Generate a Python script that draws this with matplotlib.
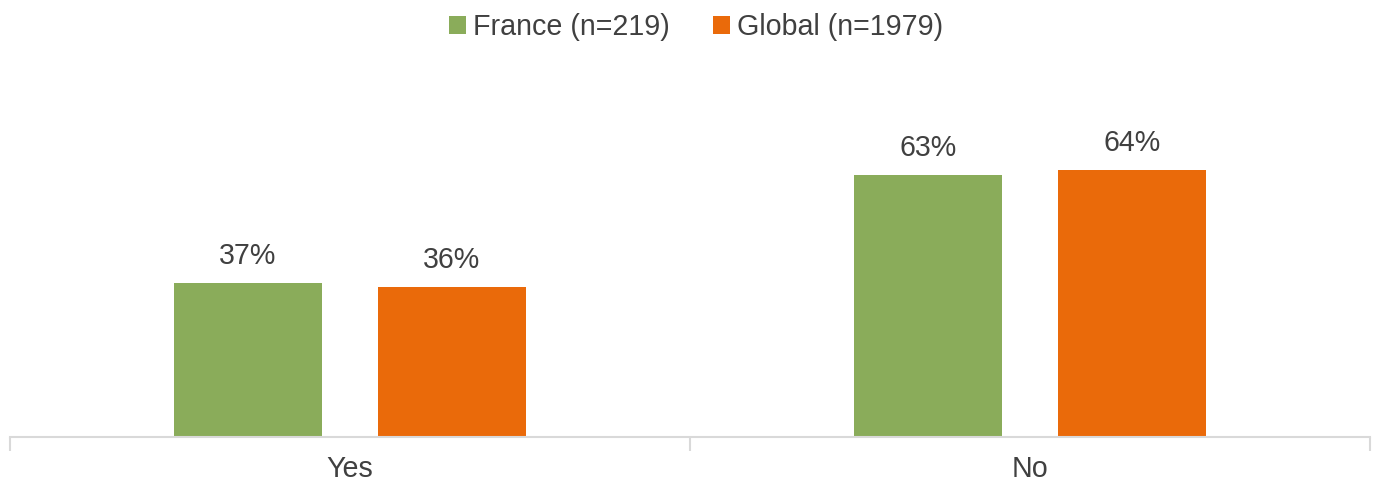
import matplotlib
matplotlib.use("Agg")
import matplotlib.pyplot as plt
import numpy as np

categories = ["Yes", "No"]
series_names = ["France (n=219)", "Global (n=1979)"]
france = [0.37, 0.63]
global_ = [0.36, 0.64]
colors = ["#8AAC5A", "#EA6A0A"]

plt.rcParams['font.family'] = ['Liberation Sans', 'DejaVu Sans']
fig = plt.figure(figsize=(13.74, 4.83), dpi=100)
ax = fig.add_axes([10/1374, (483-437)/483, 1360/1374, (437-62)/483])

x = np.arange(len(categories))
w = 0.218
off = 0.15
text_color = "#404040"
scale = 417.0
fs = 20.6
for vals, o, c, name in [(france, -off, colors[0], series_names[0]), (global_, off, colors[1], series_names[1])]:
    bars = ax.bar(x + o, vals, width=w, color=c, label=name)
    for b, v in zip(bars, vals):
        ax.text(b.get_x() + b.get_width()/2, v + 19/scale, f"{round(v*100)}%",
                ha="center", va="baseline", fontsize=fs, color=text_color)

ax.set_xlim(-0.5, 1.5)
ax.set_ylim(0, 0.9)
ax.set_yticks([])
ax.set_xticks(x)
ax.set_xticklabels(categories, fontsize=fs, color=text_color)
ax.tick_params(axis='x', which='major', length=0, pad=13)
ax.set_xticks([-0.5, 0.5, 1.5], minor=True)
ax.tick_params(axis='x', which='minor', length=10, color="#D9D9D9", width=1.5)
for s in ["top", "right", "left"]:
    ax.spines[s].set_visible(False)
ax.spines["bottom"].set_color("#D9D9D9")
ax.spines["bottom"].set_linewidth(1.5)

leg = fig.legend(loc="center", bbox_to_anchor=(0.5 + 9/1374, 1 - 27/483), ncol=2, frameon=False,
                 fontsize=fs, handlelength=0.6, handleheight=0.6, handletextpad=0.25,
                 columnspacing=1.5)
for t in leg.get_texts():
    t.set_color(text_color)

fig.savefig("out.png", dpi=100)
